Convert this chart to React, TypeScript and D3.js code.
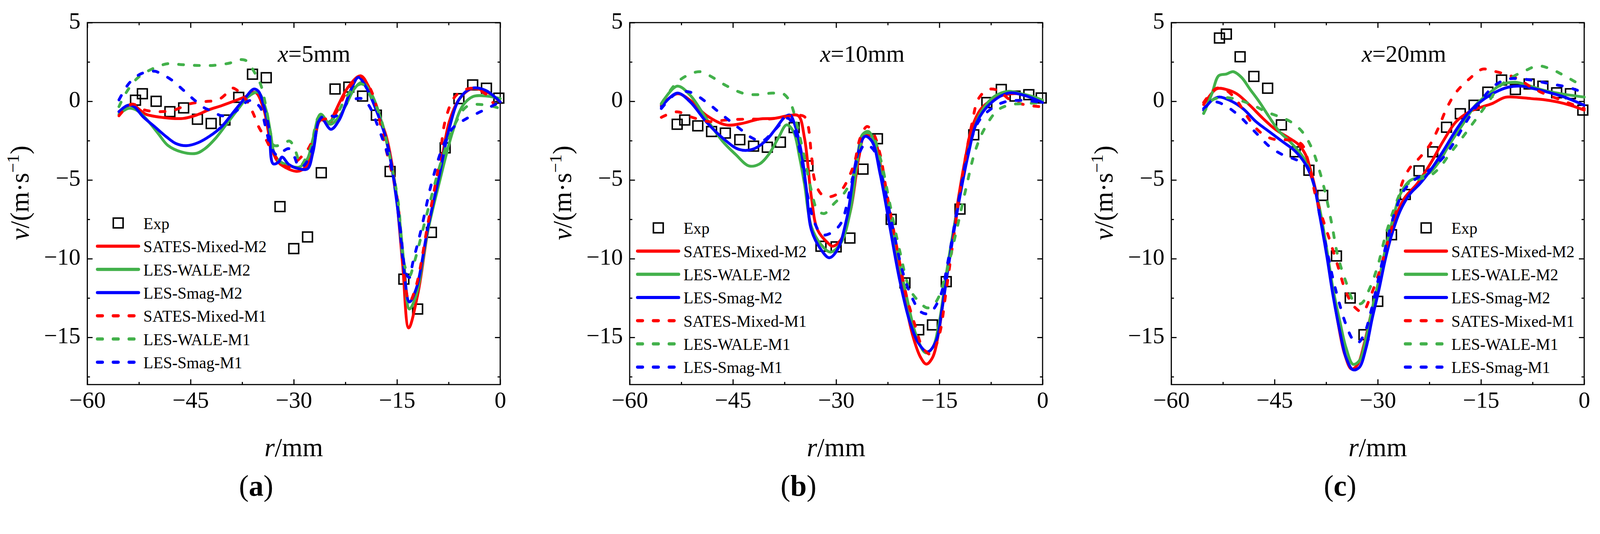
import React, { useEffect, useRef } from "react";
import * as d3 from "d3";

type Pt = [number, number];

// axis / legend text
const xTicks = [-60, -45, -30, -15, 0];
const yTicks = [5, 0, -5, -10, -15];
const seriesNames = ["SATES-Mixed-M2", "LES-WALE-M2", "LES-Smag-M2", "SATES-Mixed-M1", "LES-WALE-M1", "LES-Smag-M1"];
const seriesColors = ["#ff0000", "#43b14b", "#0000ff", "#ff0000", "#43b14b", "#0000ff"];
const seriesDashed = [false, false, false, true, true, true];
const panelTitles = ["5mm", "10mm", "20mm"];
const panelLetters = ["a", "b", "c"];

// ---------- panel (a) x=5mm ----------
const expA: Pt[] = [[-53, 0.07], [-52, 0.48], [-50, 0], [-48, -0.66], [-46, -0.42], [-44, -1.14], [-42, -1.41], [-40, -1.19], [-38, 0.25], [-36, 1.72], [-34, 1.5], [-32, -6.69], [-30, -9.36], [-28, -8.62], [-26, -4.54], [-24, 0.78], [-22, 0.9], [-20, 0.33], [-18, -0.88], [-16, -4.46], [-14, -11.3], [-12, -13.2], [-10, -8.33], [-8, -2.96], [-6, 0.17], [-4, 1.04], [-2, 0.83], [-0.2, 0.2]];
const satesM2A: Pt[] = [[-55.4, -0.66], [-54.5, -0.4], [-53.5, -0.18], [-52.5, -0.5], [-51.5, -0.82], [-49, -1.03], [-46.1, -1.09], [-44.1, -0.87], [-42.4, -0.55], [-40.5, -0.28], [-38.5, 0.04], [-37, 0.3], [-35.6, 0.57], [-34.4, -0.44], [-33.4, -2.58], [-32.6, -3.65], [-31.7, -4.08], [-29.5, -4.45], [-28.3, -4.18], [-27.3, -3.22], [-26.1, -1.19], [-24.8, -1.4], [-24.1, -0.77], [-22.1, 0.9], [-20.3, 1.62], [-19.2, 1.0], [-18, -0.46], [-16.5, -2.33], [-15.3, -5.25], [-14.2, -10.25], [-13.3, -14.4], [-12, -12.3], [-10.5, -8.2], [-8.9, -4.83], [-7.4, -1.3], [-5.9, 0.17], [-4.1, 0.8], [-1.9, 0.58], [0, -0.04]];
const waleM2A: Pt[] = [[-55.4, -0.82], [-54, -0.45], [-52.9, -0.55], [-51.5, -1.09], [-49.7, -2.05], [-48.3, -2.8], [-46.3, -3.22], [-44.2, -3.31], [-42.9, -3.01], [-41.4, -2.37], [-39.7, -1.41], [-38, -0.44], [-36.6, 0.3], [-35.2, 0.57], [-34.1, -0.44], [-33.4, -1.94], [-32.9, -3.22], [-32.2, -3.76], [-30.7, -4.08], [-29.2, -4.18], [-28, -3.65], [-27.2, -2.37], [-26.1, -0.82], [-24.7, -1.46], [-23.4, -0.98], [-22.4, -0.23], [-21.2, 0.8], [-20.1, 1.2], [-19, 0.7], [-18, -0.25], [-16.5, -2.6], [-15, -6.1], [-14, -10.25], [-13.2, -13.2], [-12.2, -12.3], [-10.5, -8.2], [-8.9, -5.25], [-6.9, -1.92], [-5.4, -0.25], [-3.9, 0.31], [-1.9, 0.33], [0, 0.17]];
const smagM2A: Pt[] = [[-55.4, -0.66], [-54.1, -0.25], [-53.2, -0.34], [-51.9, -0.98], [-50.2, -1.62], [-48.5, -2.26], [-47.1, -2.69], [-45.6, -2.82], [-43.9, -2.63], [-42.2, -2.21], [-40.5, -1.62], [-38.8, -0.71], [-37, 0.25], [-35.8, 0.78], [-35.1, 0.62], [-34.4, -0.23], [-33.6, -1.73], [-33, -3.97], [-32.2, -3.86], [-31.7, -3.54], [-30.7, -4.02], [-29.2, -4.29], [-28, -4.29], [-27.2, -3.22], [-26.1, -1.03], [-24.6, -1.78], [-23.4, -1.19], [-21.7, 0.73], [-20.6, 1.52], [-19.5, 0.9], [-18.3, -0.25], [-16.5, -2.54], [-15, -6.5], [-14, -10.67], [-13.2, -12.75], [-12.2, -11.9], [-10.5, -8], [-8.9, -4.83], [-7.4, -1.71], [-5.9, 0.17], [-4.1, 0.83], [-2.1, 0.69], [0, -0.04]];
const satesM1A: Pt[] = [[-55.4, -0.92], [-53.5, -0.18], [-51.7, -0.55], [-49.5, -0.66], [-47.3, -0.55], [-45.3, -0.18], [-42.9, -0.02], [-41, 0.09], [-39.7, 0.52], [-38.9, 0.84], [-38, 0.62], [-36.9, 0.09], [-35.9, -0.76], [-35.1, -1.62], [-34.1, -2.37], [-33.1, -3.22], [-31.9, -3.92], [-30.7, -4.18], [-29.7, -3.86], [-28.7, -3.44], [-27.8, -2.95], [-26.8, -1.94], [-26.1, -1.19], [-25, -1.1], [-24.1, -0.88], [-22.1, 0.79], [-20.3, 1.58], [-19, 0.9], [-18, -0.3], [-17, -2.33], [-15, -6.1], [-14, -10.9], [-13.2, -12.75], [-12.2, -11.7], [-10.5, -7.75], [-8.9, -4], [-7.9, -1.08], [-6.4, 0.38], [-4.1, 0.83], [-1.9, 0.38], [-0.3, -0.67]];
const waleM1A: Pt[] = [[-55.4, -0.34], [-54.4, 0.52], [-52.7, 1.48], [-50.5, 2.07], [-48.3, 2.39], [-46.3, 2.33], [-44.1, 2.28], [-41.7, 2.28], [-39.2, 2.44], [-37.7, 2.65], [-36.8, 2.55], [-35.8, 1.91], [-34.8, 1.05], [-34, -0.44], [-33.4, -1.94], [-32.9, -2.8], [-31.7, -2.74], [-30.6, -2.53], [-29.7, -3.22], [-29, -4.08], [-28.3, -3.65], [-27.5, -2.9], [-26.3, -0.98], [-25, -1.3], [-24, -1.0], [-22, 0.5], [-20.1, 1.1], [-18.8, 0.3], [-17.5, -0.88], [-16, -3.6], [-14.8, -6.5], [-14, -10.25], [-13.2, -11.1], [-12.5, -10.25], [-10.5, -6.9], [-8.4, -3.58], [-6.4, -1.3], [-4.7, -0.29], [-1.9, -0.25], [0, -0.46]];
const smagM1A: Pt[] = [[-55.4, 0.09], [-53.9, 1.16], [-52.2, 1.75], [-50.2, 1.91], [-49.3, 1.75], [-47.8, 1.37], [-46.1, 0.73], [-44.6, 0.14], [-42.9, -0.44], [-41.9, -0.6], [-40.5, -0.92], [-39, -0.76], [-38, -0.5], [-36.8, -0.02], [-35.9, 0.06], [-35.3, -0.18], [-34.8, -0.44], [-34.1, -1.62], [-33.4, -2.8], [-32.4, -3.44], [-31.7, -3.22], [-30.7, -3.01], [-30, -3.44], [-29.2, -4.18], [-28.5, -4.08], [-27.3, -3.01], [-26.1, -1.08], [-24.8, -0.87], [-24.1, -0.98], [-22.9, -0.55], [-22.1, -0.04], [-20.1, 0.17], [-19.1, -0.25], [-17.5, -1.92], [-16.5, -3.17], [-15.5, -4.83], [-14.5, -8.17], [-13.7, -10.9], [-13.2, -11.2], [-12.7, -10.25], [-11.5, -8.17], [-10, -5.25], [-8.4, -2.96], [-6.9, -1.71], [-4.9, -1.1], [-2.9, -0.67], [0, -0.04]];

// ---------- panel (b) x=10mm ----------
const expB: Pt[] = [[-53.1, -1.46], [-52, -1.19], [-50.1, -1.56], [-48.1, -1.92], [-46.1, -2.02], [-44, -2.44], [-42, -2.85], [-40, -2.92], [-38.1, -2.6], [-36.1, -1.67], [-34.1, -4.1], [-32.2, -9.21], [-30, -9.25], [-28, -8.69], [-26.1, -4.31], [-24, -2.38], [-22, -7.5], [-20, -11.54], [-18, -14.52], [-16, -14.21], [-14, -11.46], [-12, -6.85], [-10, -2.13], [-8.1, -0.08], [-6, 0.75], [-4, 0.33], [-2, 0.42], [-0.2, 0.21]];
const satesM2B: Pt[] = [[-55.4, -0.25], [-53.1, 0.48], [-51.2, 0.06], [-48.9, -0.88], [-46, -1.5], [-43.6, -1.4], [-41.2, -1.13], [-38.9, -1.08], [-37, -0.92], [-35.5, -0.92], [-34.6, -2.33], [-33.6, -6.08], [-32.7, -8.17], [-31.2, -9.0], [-30.5, -9.21], [-29.3, -8.79], [-27.9, -6.92], [-26.7, -3.58], [-25.8, -2.13], [-24.6, -2.33], [-23.1, -5.25], [-21.7, -8.58], [-20.3, -11.92], [-18.9, -14.83], [-17.7, -16.29], [-16.9, -16.7], [-16, -16.29], [-15, -14.42], [-14.1, -11.5], [-13.1, -8.79], [-12.2, -6.08], [-11.2, -3.58], [-10.3, -1.71], [-8.9, -0.46], [-7, 0.17], [-4.6, 0.48], [-2.2, 0.38], [0, -0.04]];
const waleM2B: Pt[] = [[-55.4, -0.15], [-53.1, 0.96], [-51.2, 0.38], [-48.9, -1.08], [-46.5, -2.54], [-44.6, -3.38], [-42.7, -4.1], [-41.2, -4.0], [-39.8, -3.38], [-38.4, -2.33], [-37.2, -1.5], [-36.2, -1.92], [-35.3, -3.58], [-34.6, -5.25], [-33.6, -7.96], [-32.2, -9.1], [-30.8, -9.58], [-29.3, -9.0], [-27.9, -6.9], [-27, -4.0], [-26.2, -2.13], [-25.3, -1.92], [-24.1, -3.17], [-22.7, -6.08], [-21.2, -9.4], [-19.8, -12.33], [-18.4, -14.83], [-17, -15.98], [-16, -15.67], [-15, -14.0], [-14.1, -11.3], [-13.1, -8.58], [-11.7, -5.25], [-10.3, -2.33], [-8.9, -0.67], [-7, 0.31], [-5, 0.63], [-3.1, 0.48], [-1.2, 0.27], [0, 0.06]];
const smagM2B: Pt[] = [[-55.4, -0.35], [-53.1, 0.52], [-51.2, -0.04], [-48.9, -1.29], [-46.5, -2.33], [-44.1, -3.06], [-42.2, -3.06], [-40.3, -2.54], [-38.9, -1.81], [-37.4, -0.98], [-36.7, -0.88], [-36, -1.5], [-35, -3.38], [-34.3, -5.67], [-33.6, -8.17], [-32.2, -9.42], [-31, -9.94], [-29.8, -9.42], [-28.4, -7.33], [-27, -3.58], [-25.8, -2.23], [-24.8, -2.54], [-23.6, -4.63], [-22.2, -7.96], [-20.8, -11.29], [-19.3, -14.0], [-17.9, -15.46], [-16.7, -15.92], [-15.5, -15.25], [-14.6, -13.17], [-13.6, -10.25], [-12.2, -6.5], [-10.8, -3.38], [-9.5, -1.29], [-7.6, -0.15], [-5, 0.52], [-2.7, 0.38], [0, -0.08]];
const satesM1B: Pt[] = [[-55.4, -1.02], [-53.1, -0.67], [-51.2, -0.98], [-48.4, -1.29], [-46, -1.19], [-42.7, -1.13], [-39.8, -1.13], [-37.4, -0.98], [-35.5, -0.88], [-34.6, -0.98], [-34.1, -1.5], [-33.6, -3.38], [-33.1, -5.04], [-32.2, -5.88], [-31.2, -6.08], [-29.8, -5.88], [-28.9, -5.46], [-27.4, -4.0], [-26.5, -2.33], [-25.5, -1.6], [-24.6, -2.02], [-23.6, -3.38], [-22.7, -5.67], [-21.2, -9.21], [-19.8, -12.33], [-18.4, -14.42], [-17.4, -15.67], [-16.2, -16.08], [-15, -14.83], [-14.1, -12.33], [-12.9, -8.58], [-11.7, -4.83], [-10.3, -1.5], [-9.3, 0.17], [-7.9, 0.75], [-6.5, 0.69], [-4.6, 0.06], [-2.2, -0.25], [0, -0.35]];
const waleM1B: Pt[] = [[-55.4, -0.15], [-53.1, 1.21], [-51.2, 1.73], [-49.8, 1.88], [-48.4, 1.63], [-46, 1.0], [-43.6, 0.52], [-41.7, 0.42], [-39.3, 0.52], [-37.7, 0.48], [-36.7, -0.04], [-35.8, -1.29], [-34.6, -3.58], [-33.6, -5.67], [-32.7, -6.92], [-31.7, -7.13], [-30.3, -6.5], [-28.9, -5.88], [-27.4, -4.63], [-26.5, -2.96], [-25.8, -2.02], [-24.8, -2.13], [-23.6, -3.58], [-22.2, -6.5], [-20.8, -9.42], [-19.3, -11.92], [-17.9, -12.75], [-16.7, -13.13], [-15.5, -12.75], [-14.1, -11.08], [-12.7, -8.58], [-11.2, -5.67], [-9.8, -3.17], [-8.4, -1.71], [-6.5, -0.56], [-4.6, -0.21], [-2.7, -0.15], [0, -0.08]];
const smagM1B: Pt[] = [[-55.4, -0.46], [-53.1, 0.54], [-51.2, 0.58], [-48.9, -0.04], [-46.5, -0.88], [-44.1, -1.71], [-42.2, -2.33], [-40.8, -2.54], [-38.9, -1.81], [-37, -1.08], [-36, -1.92], [-35, -3.79], [-34.1, -6.08], [-33.1, -7.75], [-32, -8.48], [-30.8, -8.38], [-29.3, -7.75], [-27.9, -5.46], [-26.7, -3.38], [-25.8, -2.75], [-24.6, -3.06], [-23.1, -5.25], [-21.7, -8.17], [-20.3, -10.88], [-18.9, -12.54], [-17.7, -13.38], [-16.5, -13.48], [-15, -12.54], [-13.6, -9.83], [-12.2, -6.29], [-10.8, -3.17], [-9.3, -1.29], [-7.4, -0.46], [-5.5, -0.04], [-3.1, 0.06], [0, -0.08]];

// ---------- panel (c) x=20mm ----------
const expC: Pt[] = [[-53, 4.02], [-52, 4.27], [-50, 2.83], [-48, 1.58], [-46, 0.83], [-44, -1.5], [-42, -3.21], [-40, -4.38], [-38, -5.98], [-36, -9.83], [-34, -12.5], [-32, -14.83], [-30, -12.71], [-28, -8.48], [-26, -5.92], [-24, -4.42], [-22, -3.21], [-20, -1.65], [-18, -0.79], [-16, -0.25], [-14, 0.58], [-12, 1.35], [-10, 0.75], [-8, 1.1], [-6, 0.96], [-4, 0.54], [-2, 0.48], [-0.2, -0.56]];
const satesM2C: Pt[] = [[-55.3, -0.21], [-53.4, 0.79], [-52, 0.75], [-50.5, 0.48], [-48.6, -0.25], [-46.7, -1.08], [-44.8, -1.81], [-42.9, -2.33], [-41.5, -2.75], [-40.5, -3.38], [-39.6, -4.63], [-38.6, -6.5], [-37.7, -8.79], [-36.7, -11.5], [-35.8, -14.0], [-34.8, -16.08], [-33.8, -17.02], [-32.9, -16.71], [-32, -15.46], [-31, -13.58], [-30, -11.92], [-29.1, -10.25], [-28.1, -8.58], [-27.2, -7.13], [-26, -6.08], [-24.3, -5.25], [-22.4, -4.0], [-20.5, -2.54], [-18.6, -1.29], [-16.7, -0.67], [-14.8, -0.35], [-13.4, -0.15], [-11.5, 0.25], [-9.6, 0.25], [-7.7, 0.17], [-5.8, 0.1], [-3.9, -0.04], [-2, -0.25], [0, -0.56]];
const waleM2C: Pt[] = [[-55.3, -0.77], [-54.1, 0.48], [-53.1, 1.63], [-52, 1.73], [-51, 1.88], [-49.8, 1.52], [-48.6, 0.79], [-47.2, -0.04], [-45.8, -0.98], [-44.3, -1.92], [-42.9, -2.5], [-41.5, -3.17], [-40.5, -3.79], [-39.6, -4.83], [-38.4, -6.92], [-37.4, -9.42], [-36.5, -11.92], [-35.5, -14.0], [-34.6, -15.67], [-33.6, -16.71], [-32.7, -16.5], [-31.7, -15.04], [-30.8, -13.17], [-29.8, -11.29], [-28.9, -9.42], [-27.7, -7.33], [-26.7, -5.88], [-25.3, -5.04], [-23.9, -4.83], [-22.4, -4.52], [-21, -3.79], [-19.6, -2.75], [-17.7, -1.5], [-15.8, -0.25], [-13.9, 0.48], [-12, 1.06], [-10, 1.21], [-8.1, 1.0], [-5.8, 0.69], [-3.4, 0.48], [0, 0.27]];
const smagM2C: Pt[] = [[-55.3, -0.56], [-54.1, 0.06], [-53.1, 0.27], [-51.5, 0.06], [-49.6, -0.46], [-47.7, -1.29], [-45.8, -1.92], [-43.9, -2.54], [-42, -3.17], [-40.5, -4.0], [-39.3, -5.25], [-38.4, -7.33], [-37.4, -9.83], [-36.5, -12.33], [-35.5, -14.63], [-34.6, -16.29], [-33.6, -17.06], [-32.7, -16.92], [-31.7, -15.67], [-30.8, -13.79], [-29.8, -11.92], [-28.9, -10.04], [-27.9, -8.38], [-26.7, -6.92], [-25.3, -5.88], [-23.9, -5.25], [-22.4, -4.42], [-20.5, -3.17], [-18.6, -1.81], [-16.7, -0.67], [-14.8, 0.06], [-12.9, 0.58], [-11, 0.9], [-9.1, 0.96], [-7.2, 0.79], [-5.3, 0.58], [-2.9, 0.27], [0, -0.25]];
const satesM1C: Pt[] = [[-55.3, -0.08], [-53.4, 0.83], [-52, 0.69], [-50.5, 0.06], [-49.1, -0.88], [-47.7, -1.71], [-46.2, -2.23], [-44.8, -2.44], [-43.4, -2.44], [-42, -2.54], [-41, -2.75], [-40, -4.0], [-39.1, -5.88], [-38.1, -7.33], [-37, -8.79], [-35.8, -10.46], [-34.6, -12.13], [-33.4, -13.06], [-32.2, -13.38], [-31, -12.33], [-29.8, -10.88], [-28.6, -9.0], [-27.4, -7.13], [-26.5, -5.25], [-25.3, -4.21], [-23.9, -3.58], [-22.4, -2.75], [-21.2, -1.71], [-20, -0.46], [-18.6, 0.58], [-16.7, 1.42], [-14.8, 2.04], [-13.4, 1.94], [-11.5, 1.73], [-9.6, 1.42], [-7.7, 0.9], [-5.8, 0.48], [-3.9, 0.17], [-2, -0.15], [0, -0.46]];
const waleM1C: Pt[] = [[-55.3, -0.77], [-54.1, 0.06], [-52.9, 0.23], [-51.5, 0.21], [-50, 0.06], [-48.1, -0.25], [-46.2, -0.67], [-44.3, -0.98], [-42.7, -1.29], [-41, -1.92], [-39.6, -2.96], [-38.6, -4.21], [-37.7, -5.67], [-36.7, -7.75], [-35.8, -9.83], [-34.6, -11.5], [-33.4, -12.75], [-32.4, -12.85], [-31.2, -11.92], [-30, -10.46], [-28.9, -8.58], [-27.7, -6.92], [-26.5, -5.67], [-25.3, -5.15], [-23.9, -4.94], [-22.4, -4.73], [-21, -4.21], [-19.6, -3.38], [-18.1, -2.54], [-16.7, -1.71], [-15.3, -0.88], [-13.9, -0.04], [-12.4, 0.9], [-10.5, 1.52], [-8.6, 1.94], [-6.7, 2.25], [-4.8, 2.04], [-2.9, 1.63], [0, 0.9]];
const smagM1C: Pt[] = [[-55.3, -0.46], [-54.1, -0.04], [-53.1, -0.08], [-51.5, -0.46], [-50, -0.98], [-48.6, -1.6], [-47.2, -2.23], [-45.8, -2.85], [-43.9, -3.38], [-42, -3.69], [-40.5, -4.0], [-39.3, -5.25], [-38.4, -7.33], [-37.4, -9.42], [-36.5, -11.29], [-35.5, -12.96], [-34.6, -14.21], [-33.6, -15.15], [-32.9, -15.35], [-32, -14.83], [-31, -13.38], [-29.8, -11.08], [-28.6, -8.79], [-27.4, -6.92], [-26.2, -5.67], [-24.8, -5.04], [-23.4, -4.63], [-22, -4.21], [-20.5, -3.58], [-19.1, -2.75], [-17.7, -1.71], [-16.2, -0.67], [-14.8, 0.17], [-12.9, 1.04], [-11, 1.42], [-9.1, 1.42], [-7.2, 1.31], [-4.8, 1.1], [-2.4, 0.9], [0, 0.54]];

const panelExp = [expA, expB, expC];
const panelSeries = [
  [satesM2A, waleM2A, smagM2A, satesM1A, waleM1A, smagM1A],
  [satesM2B, waleM2B, smagM2B, satesM1B, waleM1B, smagM1B],
  [satesM2C, waleM2C, smagM2C, satesM1C, waleM1C, smagM1C],
];

const W = 4251;
const H = 1366;
const FONT = "'Liberation Serif', 'Times New Roman', serif";

export default function App() {
  const svgRef = useRef<SVGSVGElement>(null);

  useEffect(() => {
    document.body.style.margin = "0";
    if (!svgRef.current) return;
    const svg = d3.select(svgRef.current);
    svg.selectAll("*").remove();

    const lefts = [232, 1673, 3112];
    const plotW = 1097;
    const top = 60;
    const bottom = 1021;
    const legendX = [255, 1690, 3730];
    const legendY = [592, 605, 605];

    lefts.forEach((left, p) => {
      const x = d3.scaleLinear().domain([-60, 0]).range([left, left + plotW]);
      const y = d3.scaleLinear().domain([-18, 5]).range([bottom, top]);
      const g = svg.append("g");

      // frame
      g.append("rect")
        .attr("x", left)
        .attr("y", top)
        .attr("width", plotW)
        .attr("height", bottom - top)
        .attr("fill", "none")
        .attr("stroke", "#000")
        .attr("stroke-width", 3);

      const minorX = d3.range(-52.5, 0, 15);
      const minorY = d3.range(-17.5, 5, 5);
      const fmt = (d: d3.NumberValue) => String(d).replace("-", "\u2212");

      const styleAxis = (sel: d3.Selection<SVGGElement, unknown, null, undefined>) => {
        sel.select(".domain").remove();
        sel.selectAll(".tick line").attr("stroke-width", 3);
        sel.attr("font-family", FONT).attr("font-size", 62);
        sel.selectAll(".tick text").attr("fill", "#000").attr("font-family", FONT);
      };

      // bottom
      g.append("g")
        .attr("transform", `translate(0,${bottom})`)
        .call(d3.axisBottom(x).tickValues(xTicks).tickSize(-14).tickPadding(17).tickFormat(fmt))
        .call(styleAxis);
      g.append("g")
        .attr("transform", `translate(0,${bottom})`)
        .call(d3.axisBottom(x).tickValues(minorX).tickSize(-7).tickFormat(() => ""))
        .call(styleAxis);
      // top
      g.append("g")
        .attr("transform", `translate(0,${top})`)
        .call(d3.axisTop(x).tickValues(xTicks).tickSize(-14).tickFormat(() => ""))
        .call(styleAxis);
      g.append("g")
        .attr("transform", `translate(0,${top})`)
        .call(d3.axisTop(x).tickValues(minorX).tickSize(-7).tickFormat(() => ""))
        .call(styleAxis);
      // left
      const leftAxis = g.append("g")
        .attr("transform", `translate(${left},0)`)
        .call(d3.axisLeft(y).tickValues(yTicks).tickSize(-14).tickPadding(18).tickFormat(fmt))
        .call(styleAxis);
      leftAxis.selectAll(".tick text").attr("dy", "0.24em");
      g.append("g")
        .attr("transform", `translate(${left},0)`)
        .call(d3.axisLeft(y).tickValues(minorY).tickSize(-7).tickFormat(() => ""))
        .call(styleAxis);
      // right
      g.append("g")
        .attr("transform", `translate(${left + plotW},0)`)
        .call(d3.axisRight(y).tickValues(yTicks).tickSize(-14).tickFormat(() => ""))
        .call(styleAxis);
      g.append("g")
        .attr("transform", `translate(${left + plotW},0)`)
        .call(d3.axisRight(y).tickValues(minorY).tickSize(-7).tickFormat(() => ""))
        .call(styleAxis);

      // experimental squares
      g.append("g")
        .selectAll("rect")
        .data(panelExp[p])
        .join("rect")
        .attr("x", (d) => x(d[0]) - 13)
        .attr("y", (d) => y(d[1]) - 13)
        .attr("width", 26)
        .attr("height", 26)
        .attr("fill", "none")
        .attr("stroke", "#000")
        .attr("stroke-width", 4);

      // simulation curves
      const line = d3
        .line<Pt>()
        .x((d) => x(d[0]))
        .y((d) => y(d[1]))
        .curve(d3.curveCatmullRom.alpha(0.5));

      panelSeries[p].forEach((s, i) => {
        g.append("path")
          .datum(s)
          .attr("d", line)
          .attr("fill", "none")
          .attr("stroke", seriesColors[i])
          .attr("stroke-width", 7.5)
          .attr("stroke-linecap", "round")
          .attr("stroke-linejoin", "round")
          .attr("stroke-dasharray", seriesDashed[i] ? "13,29" : null);
      });

      // title
      const title = g.append("text")
        .attr("x", left + 506)
        .attr("y", 164)
        .attr("font-family", FONT)
        .attr("font-size", 63)
        .attr("fill", "#000");
      title.append("tspan").attr("font-style", "italic").text("x");
      title.append("tspan").text("=" + panelTitles[p]);

      // legend
      const lx = legendX[p];
      const ly = legendY[p];
      const leg = g.append("g").attr("font-family", FONT).attr("font-size", 43);
      leg.append("rect")
        .attr("x", lx + 59 - 13)
        .attr("y", ly - 13)
        .attr("width", 26)
        .attr("height", 26)
        .attr("fill", "none")
        .attr("stroke", "#000")
        .attr("stroke-width", 4);
      leg.append("text").attr("x", lx + 126).attr("y", ly + 16).text("Exp");
      seriesNames.forEach((name, i) => {
        const ry = ly + 61.6 * (i + 1);
        leg.append("line")
          .attr("x1", lx + 4)
          .attr("x2", lx + 113)
          .attr("y1", ry)
          .attr("y2", ry)
          .attr("stroke", seriesColors[i])
          .attr("stroke-width", 8.5)
          .attr("stroke-linecap", "round")
          .attr("stroke-dasharray", seriesDashed[i] ? "13,29" : null);
        leg.append("text").attr("x", lx + 126).attr("y", ry + 16).text(name);
      });

      // axis labels
      const cx = left + plotW / 2;
      const xl = g.append("text")
        .attr("x", cx)
        .attr("y", 1211)
        .attr("text-anchor", "middle")
        .attr("font-family", FONT)
        .attr("font-size", 70);
      xl.append("tspan").attr("font-style", "italic").text("r");
      xl.append("tspan").text("/mm");

      const yl = g.append("text")
        .attr("transform", `translate(${left - 156},512) rotate(-90)`)
        .attr("text-anchor", "middle")
        .attr("font-family", FONT)
        .attr("font-size", 70);
      yl.append("tspan").attr("font-style", "italic").text("v");
      yl.append("tspan").text("/(m\u00b7s");
      yl.append("tspan").attr("font-size", 46).attr("dy", -26).text("\u22121");
      yl.append("tspan").attr("dy", 26).text(")");

      const lab = g.append("text")
        .attr("x", cx - 100)
        .attr("y", 1316)
        .attr("text-anchor", "middle")
        .attr("font-family", FONT)
        .attr("font-size", 78);
      lab.append("tspan").text("(");
      lab.append("tspan").attr("font-weight", "bold").text(panelLetters[p]);
      lab.append("tspan").text(")");
    });
  }, []);

  return (
    <svg
      ref={svgRef}
      viewBox={`0 0 ${W} ${H}`}
      preserveAspectRatio="xMinYMin meet"
      fontFamily={FONT}
      style={{ display: "block", width: "100%", maxWidth: W, height: "auto", background: "#fff" }}
    />
  );
}
